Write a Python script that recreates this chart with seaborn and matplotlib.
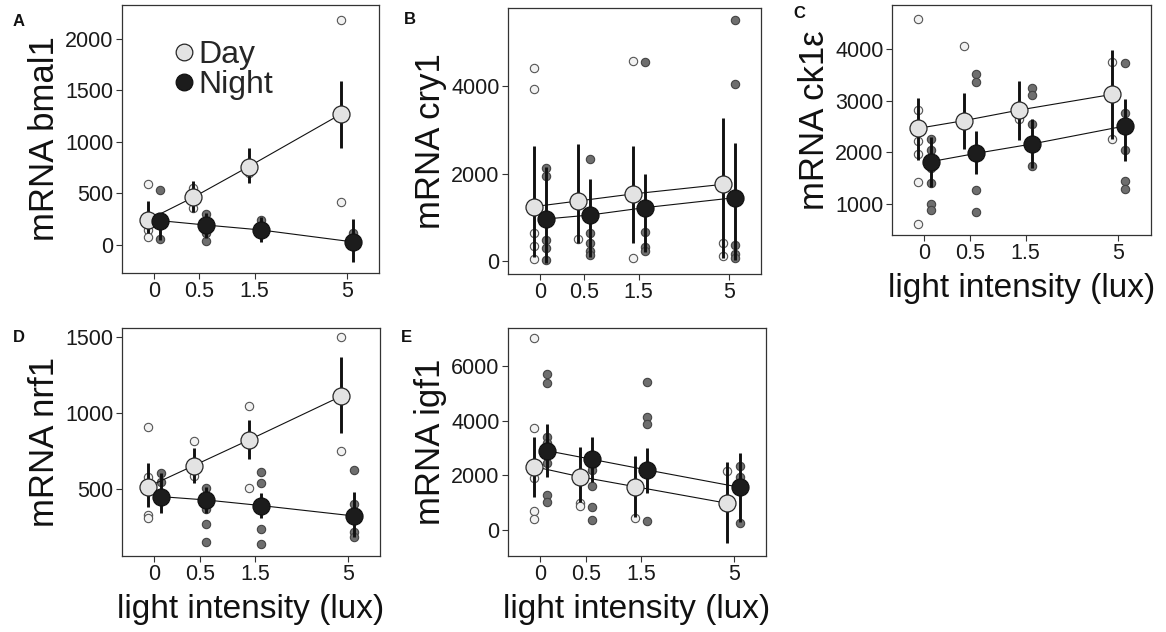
import numpy as np
import pandas as pd
import matplotlib
matplotlib.use('Agg')
import matplotlib.pyplot as plt
import seaborn as sns
from matplotlib.lines import Line2D

# light levels (lux) shared by every panel
LUX = [0, 0.5, 1.5, 5]
LUX_LABELS = ['0', '0.5', '1.5', '5']

# A - bmal1
bmal1_day_est = [243, 463, 760, 1269]
bmal1_day_lo = [113, 324, 599, 938]
bmal1_day_hi = [427, 621, 938, 1595]
bmal1_night_est = [236, 194, 146, 30]
bmal1_night_lo = [49, 65, 32, -162]
bmal1_night_hi = [314, 307, 275, 249]
bmal1_day_pts = [[589, 146, 74], [557, 437, 356], [696], [2184, 421]]
bmal1_night_pts = [[534, 55], [298, 113, 42], [243, 113], [113, 16]]

# B - cry1
cry1_day_est = [1242, 1372, 1532, 1753]
cry1_day_lo = [100, 404, 419, 61]
cry1_day_hi = [2632, 2667, 2637, 3277]
cry1_night_est = [960, 1052, 1219, 1448]
cry1_night_lo = [-53, 99, 213, 23]
cry1_night_hi = [2156, 1875, 1989, 2690]
cry1_day_pts = [[4404, 3932, 632, 343, 46], [495], [4580, 61], [404, 114]]
cry1_night_pts = [[2118, 1951, 480, 290, 23], [2324, 632, 404, 236, 137],
                  [4542, 671, 328, 236], [5509, 4039, 366, 152, 61]]

# C - ck1e
ck1e_day_est = [2464, 2613, 2819, 3122]
ck1e_day_lo = [1851, 2058, 2238, 2264]
ck1e_day_hi = [3058, 3155, 3381, 3980]
ck1e_night_est = [1819, 1980, 2161, 2509]
ck1e_night_lo = [1335, 1574, 1700, 1839]
ck1e_night_hi = [2303, 2413, 2640, 3025]
ck1e_day_pts = [[4580, 2819, 2219, 1968, 1432, 607], [4064], [2645], [3741, 2258]]
ck1e_night_pts = [[2258, 2045, 1690, 1400, 1000, 884], [3516, 3367, 1271, 852],
                  [3238, 3109, 2542, 1735], [3722, 2754, 2045, 1452, 1290]]

# D - nrf1
nrf1_day_est = [515, 653, 822, 1110]
nrf1_day_lo = [384, 542, 695, 865]
nrf1_day_hi = [673, 767, 953, 1364]
nrf1_night_est = [450, 428, 391, 323]
nrf1_night_lo = [340, 340, 307, 183]
nrf1_night_hi = [603, 515, 476, 482]
nrf1_day_pts = [[905, 581, 329, 307], [815, 588], [1045, 509], [1496, 752]]
nrf1_night_pts = [[603, 548], [504, 367, 268, 150], [609, 542, 235, 139], [625, 402, 220, 183]]

# E - igf1
igf1_day_est = [2318, 1952, 1586, 976]
igf1_day_lo = [1220, 1037, 488, -464]
igf1_day_hi = [3416, 3026, 2708, 2501]
igf1_night_est = [2904, 2586, 2196, 1562]
igf1_night_lo = [1952, 1769, 1366, 305]
igf1_night_hi = [3880, 3392, 3013, 2830]
igf1_day_pts = [[7039, 3721, 1915, 708, 403], [976, 891], [427], [2172]]
igf1_night_pts = [[5710, 5392, 3392, 3196, 2440, 1281, 1037], [2379, 2196, 1610, 830, 366],
                  [5429, 4148, 3867, 342], [2355, 1952, 268]]

sns.set_style('white')
plt.rcParams['font.family'] = ['Liberation Sans', 'DejaVu Sans']

W, H = 1166, 632
fig = plt.figure(figsize=(W / 100, H / 100), dpi=100)


def xpos(lux, shift):
    # log-like spacing of the light levels, conditions dodged left/right
    return np.log(np.asarray(lux, dtype=float) + 0.9) + shift


def add_ax(l, t, r, b):
    return fig.add_axes([l / W, (H - b) / H, (r - l) / W, (b - t) / H])


STYLE = {
    'Day': dict(shift=-0.06, pt_fc='#f2f2f2', pt_ec='#555555', m_fc='#e3e3e3', m_ec='#262626'),
    'Night': dict(shift=0.06, pt_fc='#6e6e6e', pt_ec='#444444', m_fc='#1c1c1c', m_ec='#111111'),
}


def panel(ax, day, night, ylim, yticks, ylabel, xlabel=None):
    for cond, (est, lo, hi, pts) in (('Day', day), ('Night', night)):
        st = STYLE[cond]
        raw = pd.DataFrame({
            'x': np.concatenate([xpos([lx] * len(v), st['shift']) for lx, v in zip(LUX, pts)]),
            'y': np.concatenate([np.asarray(v, dtype=float) for v in pts]),
        })
        sns.scatterplot(data=raw, x='x', y='y', ax=ax, s=36, color=st['pt_fc'],
                        edgecolor=st['pt_ec'], linewidth=0.8, zorder=2, legend=False)
    for cond, (est, lo, hi, pts) in (('Day', day), ('Night', night)):
        st = STYLE[cond]
        xs = xpos(LUX, st['shift'])
        ax.vlines(xs, lo, hi, color='#111111', lw=2.1, zorder=3)
        sns.lineplot(x=xs, y=est, ax=ax, color='#111111', lw=0.8, zorder=4)
    for cond, (est, lo, hi, pts) in (('Day', day), ('Night', night)):
        st = STYLE[cond]
        xs = xpos(LUX, st['shift'])
        sns.scatterplot(x=xs, y=est, ax=ax, s=150, color=st['m_fc'],
                        edgecolor=st['m_ec'], linewidth=0.9, zorder=5, legend=False)
    ax.set_xlim(-0.42, 2.09)
    ax.set_ylim(*ylim)
    ax.set_xticks(xpos(LUX, 0))
    ax.set_xticklabels(LUX_LABELS)
    ax.set_yticks(yticks)
    ax.set_ylabel(ylabel, fontsize=25, labelpad=3, color='#111111')
    if xlabel:
        ax.set_xlabel(xlabel, fontsize=24, labelpad=6, color='#111111')
    else:
        ax.set_xlabel('')
    ax.tick_params(axis='both', labelsize=15.5, length=4, width=0.8, color='#333333',
                   labelcolor='#1a1a1a', pad=2, bottom=True, left=True)
    for sp in ax.spines.values():
        sp.set_color('#333333')
        sp.set_linewidth(0.9)


axA = add_ax(122, 5, 379, 273)
panel(axA, (bmal1_day_est, bmal1_day_lo, bmal1_day_hi, bmal1_day_pts),
      (bmal1_night_est, bmal1_night_lo, bmal1_night_hi, bmal1_night_pts),
      (-272, 2330), [0, 500, 1000, 1500, 2000], 'mRNA bmal1')

axB = add_ax(508, 8, 761, 274)
panel(axB, (cry1_day_est, cry1_day_lo, cry1_day_hi, cry1_day_pts),
      (cry1_night_est, cry1_night_lo, cry1_night_hi, cry1_night_pts),
      (-297, 5783), [0, 2000, 4000], 'mRNA cry1')

axC = add_ax(892, 5, 1151, 235)
panel(axC, (ck1e_day_est, ck1e_day_lo, ck1e_day_hi, ck1e_day_pts),
      (ck1e_night_est, ck1e_night_lo, ck1e_night_hi, ck1e_night_pts),
      (400, 4851), [1000, 2000, 3000, 4000], 'mRNA ck1ε', 'light intensity (lux)')

axD = add_ax(122, 328, 380, 556)
panel(axD, (nrf1_day_est, nrf1_day_lo, nrf1_day_hi, nrf1_day_pts),
      (nrf1_night_est, nrf1_night_lo, nrf1_night_hi, nrf1_night_pts),
      (60, 1557), [500, 1000, 1500], 'mRNA nrf1', 'light intensity (lux)')

axE = add_ax(508, 328, 766, 556)
panel(axE, (igf1_day_est, igf1_day_lo, igf1_day_hi, igf1_day_pts),
      (igf1_night_est, igf1_night_lo, igf1_night_hi, igf1_night_pts),
      (-951, 7389), [0, 2000, 4000, 6000], 'mRNA igf1', 'light intensity (lux)')

# legend in panel A
handles = [Line2D([], [], ls='', marker='o', markersize=12, mfc=STYLE[c]['m_fc'],
                  mec=STYLE[c]['m_ec'], mew=0.9) for c in ('Day', 'Night')]
axA.legend(handles, ['Day', 'Night'], frameon=False, fontsize=23, loc='upper left',
           bbox_to_anchor=(0.135, 0.93), borderpad=0, handlelength=0.7,
           handletextpad=0.12, labelspacing=0.02)

# panel letters
for letter, (px, py) in zip('ABCDE', [(19, 21), (410, 19), (799, 14), (19, 338), (406, 338)]):
    fig.text(px / W, 1 - py / H, letter, fontsize=12, fontweight='bold',
             ha='center', va='center', color='#111111')

fig.savefig('out.png', dpi=100, facecolor='white')
